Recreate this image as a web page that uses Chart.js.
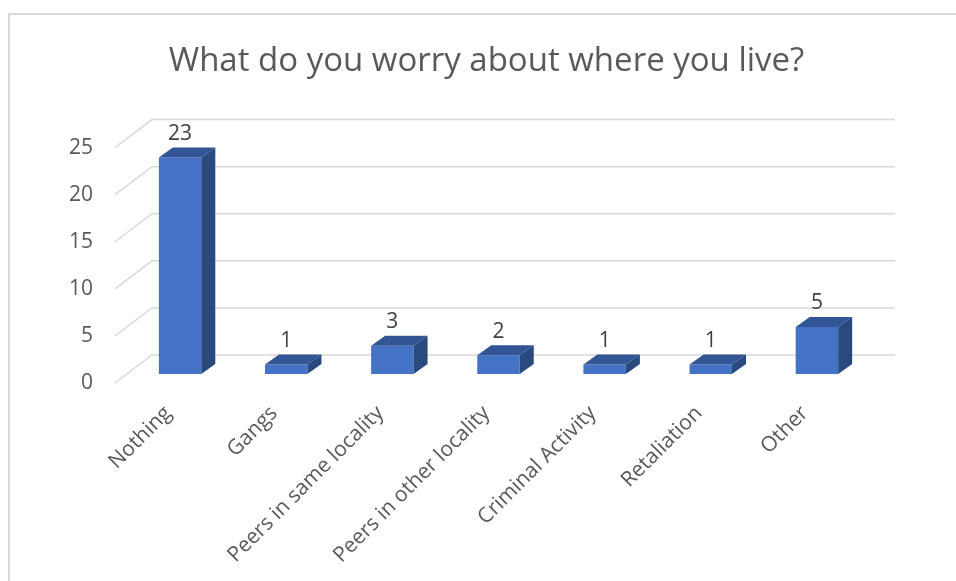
<!DOCTYPE html>
<html>
<head>
<meta charset="utf-8">
<title>What do you worry about where you live?</title>
<script src="https://cdn.jsdelivr.net/npm/chart.js@4.4.1/dist/chart.umd.min.js"></script>
<style>
    html, body { margin: 0; padding: 0; background: #fff; overflow: hidden; }
    #wrap { position: relative; width: 956px; height: 581px; }
    #frame { position: absolute; left: 8px; top: 13px; width: 1000px; height: 1000px; border: 2px solid #d9d9d9; }
    #chart { position: absolute; left: 0; top: 0; }
</style>
</head>
<body>
<div id="wrap">
    <div id="frame"></div>
    <canvas id="chart" width="956" height="581"></canvas>
</div>
<script>
// Survey answers
const categories = ['Nothing', 'Gangs', 'Peers in same locality', 'Peers in other locality', 'Criminal Activity', 'Retaliation', 'Other'];
const responses = [23, 1, 3, 2, 1, 1, 5];
const yTicks = [0, 5, 10, 15, 20, 25];

// 3D look: floor depth and where the bars sit inside it
const FLOOR = { dx: 37, dy: -28 };
const BAR_SHIFT = { dx: 12, dy: -9 };
const BAR_DEPTH = { dx: 14, dy: -10 };

const FONT = '"Open Sans", "DejaVu Sans", sans-serif';

const depth3d = {
    id: 'depth3d',
    beforeDatasetsDraw(chart) {
        const { ctx, chartArea, scales } = chart;
        const y = scales.y;

        // back wall gridlines with the diagonal on the left side wall
        ctx.save();
        ctx.strokeStyle = '#d9d9d9';
        ctx.lineWidth = 1.5;
        y.ticks.forEach(t => {
            const py = y.getPixelForValue(t.value);
            ctx.beginPath();
            ctx.moveTo(chartArea.left, py);
            ctx.lineTo(chartArea.left + FLOOR.dx, py + FLOOR.dy);
            ctx.lineTo(chartArea.right + FLOOR.dx, py + FLOOR.dy);
            ctx.stroke();
        });
        ctx.restore();

        // front faces are drawn by Chart.js, pushed into the floor
        ctx.save();
        ctx.translate(BAR_SHIFT.dx, BAR_SHIFT.dy);
    },
    afterDatasetsDraw(chart) {
        const { ctx } = chart;
        const meta = chart.getDatasetMeta(0);

        meta.data.forEach((bar, i) => {
            const x0 = bar.x - bar.width / 2;
            const x1 = bar.x + bar.width / 2;
            const top = bar.y;
            const base = bar.base;

            // top face
            ctx.fillStyle = '#325596';
            ctx.beginPath();
            ctx.moveTo(x0, top);
            ctx.lineTo(x1, top);
            ctx.lineTo(x1 + BAR_DEPTH.dx, top + BAR_DEPTH.dy);
            ctx.lineTo(x0 + BAR_DEPTH.dx, top + BAR_DEPTH.dy);
            ctx.closePath();
            ctx.fill();

            // right side face
            ctx.fillStyle = '#294A7D';
            ctx.beginPath();
            ctx.moveTo(x1, top);
            ctx.lineTo(x1 + BAR_DEPTH.dx, top + BAR_DEPTH.dy);
            ctx.lineTo(x1 + BAR_DEPTH.dx, base + BAR_DEPTH.dy);
            ctx.lineTo(x1, base);
            ctx.closePath();
            ctx.fill();

            // value label above the bar
            ctx.fillStyle = '#404040';
            ctx.font = '21px ' + FONT;
            ctx.textAlign = 'center';
            ctx.textBaseline = 'bottom';
            ctx.fillText(String(responses[i]), bar.x, top + BAR_DEPTH.dy - 3);
        });

        ctx.restore();
    }
};

const chart = new Chart(document.getElementById('chart'), {
    type: 'bar',
    data: {
        labels: categories,
        datasets: [{
            data: responses,
            backgroundColor: '#4472C4',
            borderWidth: 0,
            barPercentage: 0.4,
            categoryPercentage: 1,
            clip: false
        }]
    },
    options: {
        responsive: false,
        animation: false,
        devicePixelRatio: 1,
        layout: { padding: { left: 0, right: 98, top: 0, bottom: 0 } },
        plugins: {
            legend: { display: false },
            tooltip: { enabled: false },
            title: {
                display: true,
                fullSize: false,
                text: 'What do you worry about where you live?',
                color: '#595959',
                font: { family: FONT, size: 33, weight: 'normal', lineHeight: 1.2 },
                padding: { top: 42, bottom: 66 }
            }
        },
        scales: {
            x: {
                grid: { display: false, drawTicks: false },
                border: { display: false },
                ticks: {
                    color: '#595959',
                    font: { family: FONT, size: 21 },
                    minRotation: 45,
                    maxRotation: 45,
                    padding: 18
                },
                afterFit(scale) { scale.height = 198; }
            },
            y: {
                min: 0,
                max: 25,
                grid: { display: false, drawTicks: false },
                border: { display: false },
                ticks: {
                    color: '#595959',
                    font: { family: FONT, size: 21 },
                    padding: 22
                },
                afterBuildTicks(scale) { scale.ticks = yTicks.map(v => ({ value: v })); },
                afterFit(scale) { scale.width = 115; }
            }
        }
    },
    plugins: [depth3d]
});
</script>
</body>
</html>
